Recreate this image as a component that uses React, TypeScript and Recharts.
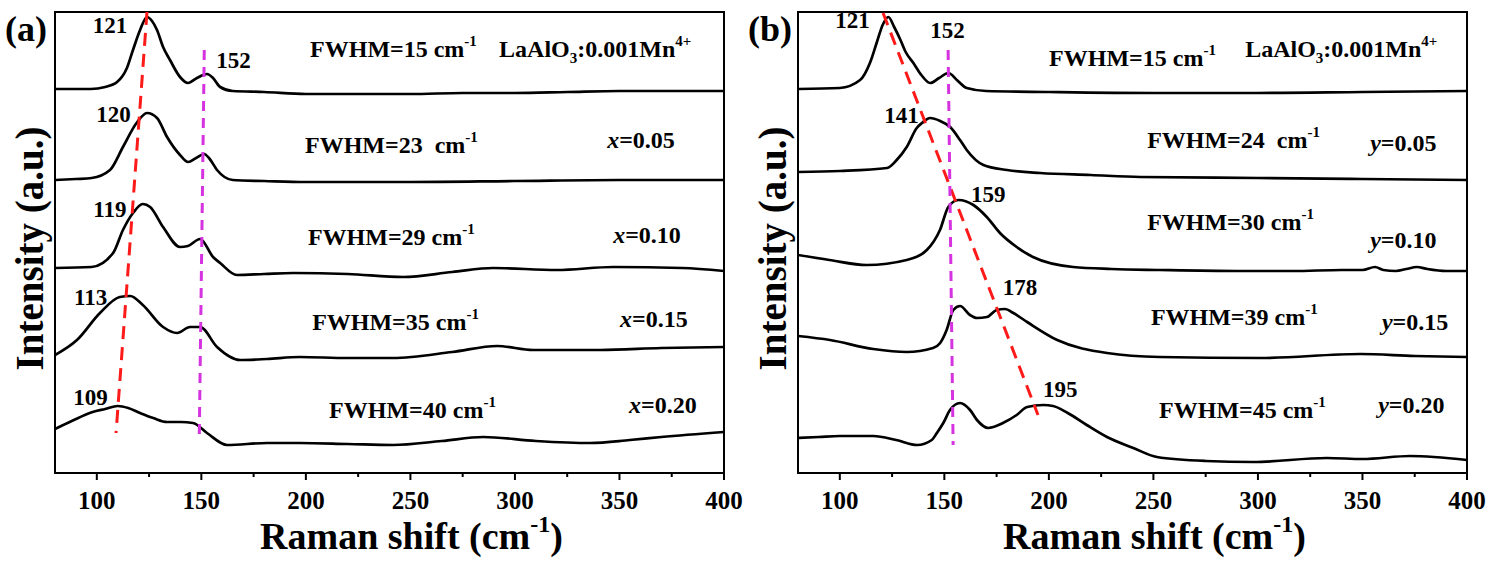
import React from 'react';
import { LineChart, Line, XAxis, YAxis, ReferenceArea, ReferenceLine, ReferenceDot } from 'recharts';

type Pt = [number, number];
type Part = { t: string; sup?: boolean; sub?: boolean; it?: boolean };
type Note = { x: number; y: number; parts: Part[] };

const FONT = "'Liberation Serif', 'Times New Roman', serif";
const X_DOMAIN: [number, number] = [80, 400];
const Y_DOMAIN: [number, number] = [0, 46.1];
const X_TICKS = [100, 125, 150, 175, 200, 225, 250, 275, 300, 325, 350, 375, 400];
const MAJOR_TICKS = [100, 150, 200, 250, 300, 350, 400];

// ---- Panel (a): LaAlO3:0.001Mn4+, x = 0.05 ... 0.20 (offset spectra, a.u.)
const A_REF: Pt[] = [[80,38.4],[90,38.4],[97,38.4],[104,38.6],[109.7,39.1],[114.4,40.5],[117.3,42.3],[120.7,44.3],[124,45.6],[126.4,45.2],[128.8,44.3],[131.7,42.6],[135,41.3],[139.8,39.6],[143.6,39.0],[147.9,39.5],[152.7,39.9],[155.6,39.5],[159,38.6],[165,38.2],[180,38.1],[200,37.9],[225,37.9],[250,37.9],[275,38.0],[300,38.0],[325,38.1],[350,38.2],[375,38.2],[400,38.2]];
const A_X005: Pt[] = [[80,29.3],[90,29.4],[97.5,29.5],[106.3,30.3],[112.5,32.6],[119,35.0],[124,36.0],[128.8,35.5],[133.6,33.6],[139.8,31.8],[143.6,31.1],[147.5,31.5],[151.3,31.9],[154,31.4],[157.5,30.3],[165,29.3],[180,29.2],[200,29.1],[250,29.1],[300,29.2],[350,29.3],[400,29.3]];
const A_X010: Pt[] = [[80,20.5],[97.5,20.6],[107.8,22.0],[112.5,24.3],[117.3,26.0],[122,26.9],[125.5,26.6],[131.7,24.6],[139.8,22.6],[143.6,22.7],[149.4,23.4],[155.6,21.6],[159,21.0],[167,19.8],[180,19.9],[194,20.0],[220,19.9],[246.5,19.6],[270,20.1],[289.6,20.5],[320,20.3],[347,20.6],[380,20.5],[400,20.2]];
const A_X015: Pt[] = [[80,11.8],[90.5,13.3],[101.5,16.0],[111,17.6],[116,17.7],[122,16.8],[131.7,14.6],[138.4,14.0],[144.6,14.6],[149.4,14.6],[157.5,12.6],[168.5,11.3],[181.4,11.4],[197,11.6],[220,11.5],[241.7,11.5],[270,12.1],[291.5,12.7],[308.7,12.3],[340.8,12.3],[370,12.5],[400,12.6]];
const A_X020: Pt[] = [[80,4.4],[88,5.2],[98,6.1],[104,6.4],[110,6.7],[115,6.5],[120.7,6.0],[127,5.5],[133.6,5.1],[140,5.1],[146,5.0],[152.7,4.0],[162.3,2.8],[181.4,3.0],[197,3.0],[220,2.9],[241.7,2.8],[265,3.2],[284.8,3.6],[310,3.2],[336,3.0],[355,3.3],[370,3.6],[400,4.1]];

// ---- Panel (b): y = 0.05 ... 0.20
const B_REF: Pt[] = [[80,38.4],[100,38.5],[109.7,39.3],[114.4,41.0],[117.6,43.0],[120.5,44.8],[123.2,45.6],[126,44.6],[128.8,43.4],[131.5,42.1],[135.2,41.0],[139,39.8],[143.2,39.0],[147.5,39.5],[152,40.0],[156,39.3],[160.7,38.5],[170,38.2],[200,38.1],[250,38.0],[300,38.0],[350,38.1],[400,38.2]];
const B_Y005: Pt[] = [[80,30.1],[100,30.2],[122.6,30.5],[127.2,31.3],[132,32.6],[136.8,34.5],[139.3,35.0],[143.2,35.5],[148,35.2],[152.8,34.6],[157.5,33.3],[160.7,32.3],[168.7,30.8],[180,30.3],[195.8,30.0],[220,29.8],[243.6,29.6],[300,29.5],[350,29.4],[400,29.3]];
const B_Y010: Pt[] = [[80,21.8],[95,21.3],[112.9,20.8],[132,21.3],[141.6,22.3],[147.9,24.3],[151.9,26.6],[156.7,27.3],[163.9,26.8],[170.3,25.6],[176.6,24.0],[184.6,22.6],[192.4,21.6],[211.6,20.6],[230,20.4],[253,20.3],[290,20.2],[316.8,20.2],[340,20.3],[350,20.3],[356,20.6],[360,20.3],[366,20.2],[371,20.4],[376,20.6],[381,20.4],[390,20.2],[400,20.2]];
const B_Y015: Pt[] = [[80,13.7],[95.3,13.3],[116,12.4],[132,12.1],[144.6,12.5],[148,13.0],[151.1,14.3],[154.3,16.3],[157.5,16.7],[162.3,15.8],[165.6,15.5],[170.4,15.6],[175,16.3],[179,16.4],[183,16.0],[189.6,15.1],[204,13.3],[227.8,12.0],[253,11.6],[301,11.5],[349,11.9],[375,11.7],[400,11.6]];
const B_Y020: Pt[] = [[80,3.5],[90,3.6],[100,3.7],[116,3.7],[127,3.3],[137,2.8],[144,3.3],[146.4,4.0],[149.5,5.0],[152.7,6.3],[157.5,7.0],[162.3,6.3],[165.6,5.3],[171,4.5],[178,5.0],[184.6,5.8],[189.6,6.6],[197.3,6.8],[202,6.7],[209,6.0],[218.1,4.8],[227.8,3.6],[240.4,2.5],[251.7,1.6],[275,1.2],[297.7,1.1],[333,1.5],[350,1.4],[372.8,1.7],[400,1.3]];

// ---- guide lines (peak shift), endpoints in data units
const A_RED: Pt[] = [[124, 46.1], [109.2, 4.0]];
const A_MAG: Pt[] = [[151.4, 42.3], [149, 3.5]];
const B_RED: Pt[] = [[120.7, 46.0], [194.8, 5.8]];
const B_MAG: Pt[] = [[151.8, 42.3], [154.2, 2.8]];

// ---- peak labels
const A_PEAKS: Note[] = [
  { x: 106.3, y: 44.0, parts: [{ t: '121' }] },
  { x: 165.4, y: 40.5, parts: [{ t: '152' }] },
  { x: 108, y: 35.1, parts: [{ t: '120' }] },
  { x: 106.3, y: 25.6, parts: [{ t: '119' }] },
  { x: 97, y: 16.8, parts: [{ t: '113' }] },
  { x: 97, y: 6.8, parts: [{ t: '109' }] },
];
const B_PEAKS: Note[] = [
  { x: 106.1, y: 44.5, parts: [{ t: '121' }] },
  { x: 151.5, y: 43.5, parts: [{ t: '152' }] },
  { x: 129.5, y: 35.0, parts: [{ t: '141' }] },
  { x: 171, y: 27.1, parts: [{ t: '159' }] },
  { x: 186.2, y: 17.8, parts: [{ t: '178' }] },
  { x: 205.4, y: 7.6, parts: [{ t: '195' }] },
];

// ---- FWHM / composition notes
const HOST: Part[] = [{ t: 'LaAlO' }, { t: '3', sub: true }, { t: ':0.001Mn' }, { t: '4+', sup: true }];
const A_NOTES: Note[] = [
  { x: 202, y: 41.6, parts: [{ t: 'FWHM=15 cm' }, { t: '-1', sup: true }] },
  { x: 292.4, y: 41.6, parts: HOST },
  { x: 199.6, y: 32.0, parts: [{ t: 'FWHM=23\u00a0 cm' }, { t: '-1', sup: true }] },
  { x: 344.1, y: 32.5, parts: [{ t: 'x', it: true }, { t: '=0.05' }] },
  { x: 201, y: 22.8, parts: [{ t: 'FWHM=29 cm' }, { t: '-1', sup: true }] },
  { x: 347, y: 23.0, parts: [{ t: 'x', it: true }, { t: '=0.10' }] },
  { x: 203, y: 14.3, parts: [{ t: 'FWHM=35 cm' }, { t: '-1', sup: true }] },
  { x: 350.3, y: 14.6, parts: [{ t: 'x', it: true }, { t: '=0.15' }] },
  { x: 211.1, y: 5.5, parts: [{ t: 'FWHM=40 cm' }, { t: '-1', sup: true }] },
  { x: 354.6, y: 6.0, parts: [{ t: 'x', it: true }, { t: '=0.20' }] },
];
const B_NOTES: Note[] = [
  { x: 200.1, y: 40.7, parts: [{ t: 'FWHM=15 cm' }, { t: '-1', sup: true }] },
  { x: 293.9, y: 41.6, parts: HOST },
  { x: 247, y: 32.5, parts: [{ t: 'FWHM=24\u00a0 cm' }, { t: '-1', sup: true }] },
  { x: 353.7, y: 32.2, parts: [{ t: 'y', it: true }, { t: '=0.05' }] },
  { x: 247, y: 24.3, parts: [{ t: 'FWHM=30 cm' }, { t: '-1', sup: true }] },
  { x: 353.7, y: 22.5, parts: [{ t: 'y', it: true }, { t: '=0.10' }] },
  { x: 248.8, y: 14.8, parts: [{ t: 'FWHM=39 cm' }, { t: '-1', sup: true }] },
  { x: 359.3, y: 14.3, parts: [{ t: 'y', it: true }, { t: '=0.15' }] },
  { x: 252.7, y: 5.5, parts: [{ t: 'FWHM=45 cm' }, { t: '-1', sup: true }] },
  { x: 357.5, y: 6.0, parts: [{ t: 'y', it: true }, { t: '=0.20' }] },
];

const X_TITLE: Part[] = [{ t: 'Raman shift (cm' }, { t: '-1', sup: true }, { t: ')' }];
const Y_TITLE = 'Intensity (a.u.)';

const toRows = (pts: Pt[]) => pts.map(([x, y]) => ({ x, y }));

function RichText({ x, y, parts, size, anchor = 'start' }: { x: number; y: number; parts: Part[]; size: number; anchor?: string }) {
  const up = Math.round(size * 0.45);
  const down = Math.round(size * 0.25);
  let cur = 0;
  return (
    <text x={x} y={y} textAnchor={anchor} fontFamily={FONT} fontWeight="bold" fontSize={size} fill="#000">
      {parts.map((p, i) => {
        const target = p.sup ? -up : p.sub ? down : 0;
        const dy = target - cur;
        cur = target;
        return (
          <tspan key={i} dy={dy} fontSize={p.sup || p.sub ? Math.round(size * 0.62) : size} fontStyle={p.it ? 'italic' : 'normal'}>
            {p.t}
          </tspan>
        );
      })}
    </text>
  );
}

function XTick(props: any) {
  const { x, y, payload } = props;
  const major = MAJOR_TICKS.includes(payload.value);
  return (
    <g>
      <line x1={x} x2={x} y1={y} y2={y + (major ? 7 : 4)} stroke="#000" strokeWidth={2} />
      {major && (
        <text x={x} y={y + 36} textAnchor="middle" fontFamily={FONT} fontWeight="bold" fontSize={25} fill="#000">
          {payload.value}
        </text>
      )}
    </g>
  );
}

type PanelProps = {
  left: number;
  marginLeft: number;
  marginRight: number;
  letter: string;
  series: Pt[][];
  red: Pt[];
  mag: Pt[];
  peaks: Note[];
  notes: Note[];
};

const PLOT_TOP = 12;

function Panel({ left, marginLeft, marginRight, letter, series, red, mag, peaks, notes }: PanelProps) {
  const axisTitles = (p: any) => {
    const vb = p.viewBox || {};
    const plotLeft = vb.x;
    const plotBottom = vb.y;
    const cy = (PLOT_TOP + plotBottom) / 2 + 6;
    return (
      <g>
        <RichText x={vb.x + vb.width / 2 + 22} y={plotBottom + 76} parts={X_TITLE} size={38} anchor="middle" />
        <text transform={`translate(${plotLeft - 12}, ${cy}) rotate(-90)`} textAnchor="middle" fontFamily={FONT} fontWeight="bold" fontSize={39} fill="#000">
          {Y_TITLE}
        </text>
        <text x={plotLeft - 50} y={PLOT_TOP + 29} fontFamily={FONT} fontWeight="bold" fontSize={36} fill="#000">
          {letter}
        </text>
      </g>
    );
  };
  return (
    <div style={{ position: 'absolute', left, top: 0 }}>
      <LineChart width={746} height={561} margin={{ top: PLOT_TOP, right: marginRight, bottom: 58, left: marginLeft }}>
        <XAxis
          type="number"
          dataKey="x"
          domain={X_DOMAIN}
          allowDataOverflow
          ticks={X_TICKS}
          interval={0}
          height={30}
          tickSize={0}
          tickMargin={0}
          tickLine={false}
          axisLine={{ stroke: '#000', strokeWidth: 2 }}
          tick={<XTick />}
          label={axisTitles}
        />
        <YAxis type="number" domain={Y_DOMAIN} allowDataOverflow hide />
        <ReferenceArea x1={80} x2={400} y1={0} y2={46.1} fill="none" fillOpacity={0} stroke="#000" strokeWidth={2} ifOverflow="visible" />
        {series.map((s, i) => (
          <Line
            key={i}
            data={toRows(s)}
            dataKey="y"
            type="monotone"
            stroke="#000"
            strokeWidth={2.7}
            dot={false}
            activeDot={false}
            isAnimationActive={false}
          />
        ))}
        <ReferenceLine
          segment={red.map(([x, y]) => ({ x, y }))}
          stroke="#ff1a1a"
          strokeWidth={3}
          strokeDasharray="13 8"
          ifOverflow="visible"
        />
        <ReferenceLine
          segment={mag.map(([x, y]) => ({ x, y }))}
          stroke="#d633e0"
          strokeWidth={3}
          strokeDasharray="10 7"
          ifOverflow="visible"
        />
        {peaks.map((n, i) => (
          <ReferenceDot
            key={'p' + i}
            x={n.x}
            y={n.y}
            r={1}
            ifOverflow="visible"
            shape={(p: any) => <RichText x={p.cx} y={p.cy} parts={n.parts} size={23} anchor="middle" />}
          />
        ))}
        {notes.map((n, i) => (
          <ReferenceDot
            key={'n' + i}
            x={n.x}
            y={n.y}
            r={1}
            ifOverflow="visible"
            shape={(p: any) => <RichText x={p.cx} y={p.cy} parts={n.parts} size={24} anchor="start" />}
          />
        ))}
      </LineChart>
    </div>
  );
}

export default function App() {
  return (
    <div style={{ position: 'absolute', left: 0, top: 0, width: 1492, height: 561, background: '#fff' }}>
      <Panel
        left={0}
        marginLeft={55}
        marginRight={22}
        letter="(a)"
        series={[A_REF, A_X005, A_X010, A_X015, A_X020]}
        red={A_RED}
        mag={A_MAG}
        peaks={A_PEAKS}
        notes={A_NOTES}
      />
      <Panel
        left={746}
        marginLeft={52}
        marginRight={25}
        letter="(b)"
        series={[B_REF, B_Y005, B_Y010, B_Y015, B_Y020]}
        red={B_RED}
        mag={B_MAG}
        peaks={B_PEAKS}
        notes={B_NOTES}
      />
    </div>
  );
}
